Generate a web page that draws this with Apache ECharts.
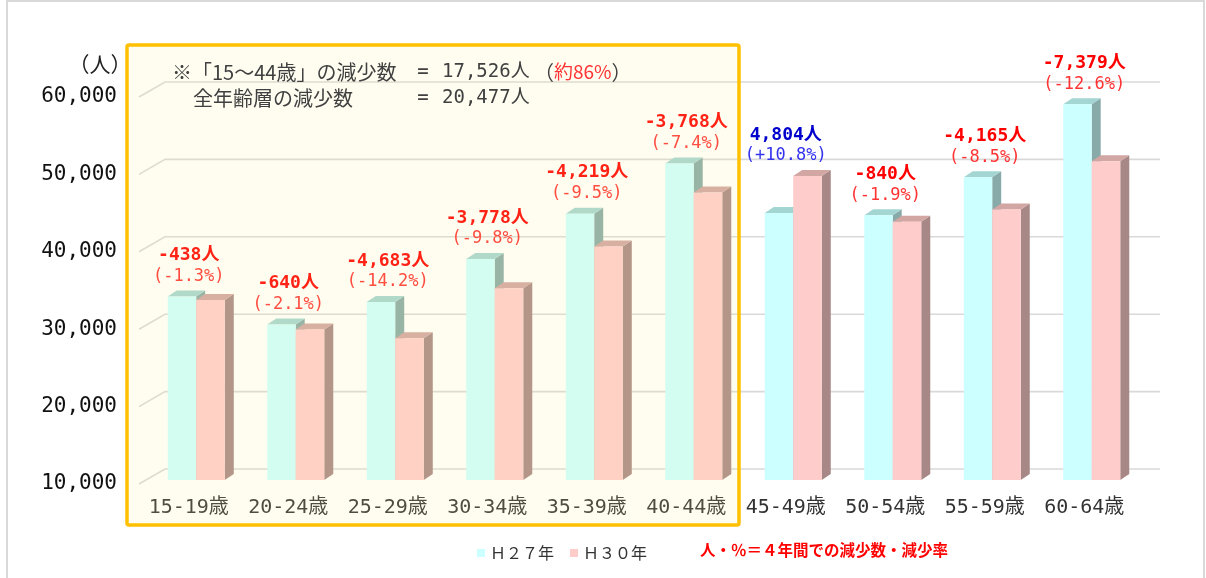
<!DOCTYPE html>
<html>
<head>
<meta charset="utf-8">
<script src="https://cdn.jsdelivr.net/npm/echarts@6/dist/echarts.min.js"></script>
<style>
  body { margin: 0; background: #fff; }
  #chart { width: 1206px; height: 578px; }
</style>
</head>
<body>
<div id="chart"></div>
<script>
// 年齢階級別人口（H27 / H30）
const categories = ['15-19歳', '20-24歳', '25-29歳', '30-34歳', '35-39歳', '40-44歳', '45-49歳', '50-54歳', '55-59歳', '60-64歳']
const h27 = [33700, 30100, 33000, 38550, 44400, 50900, 44480, 44210, 49100, 58560]
const h30 = [33262, 29460, 28317, 34772, 40181, 47132, 49284, 43370, 44935, 51181]
const diffs = [-438, -640, -4683, -3778, -4219, -3768, 4804, -840, -4165, -7379]
const rates = [-1.3, -2.1, -14.2, -9.8, -9.5, -7.4, 10.8, -1.9, -8.5, -12.6]
const yTicks = [10000, 20000, 30000, 40000, 50000, 60000]

const MONO = "'DejaVu Sans Mono', 'Noto Sans CJK JP', monospace"
const JP = "'Noto Sans CJK JP', sans-serif"
const DEPTH = [26, -15] // 奥の壁までのずれ
const BAR_DEPTH = [9, -6]

const myChart = echarts.init(document.getElementById('chart'))

// 棒（前面・上面・側面）
function barRender(slot, colors) {
  return function (params, api) {
    const i = api.value(0)
    const top = api.coord([i, api.value(1)])
    const base = api.coord([i, yTicks[0]])
    const band = api.size([1, 0])[0]
    const x0 = top[0] + band * slot[0]
    const x1 = top[0] + band * slot[1]
    const yT = top[1] - 4
    const yB = base[1] - 4
    const [dx, dy] = BAR_DEPTH
    return {
      type: 'group',
      children: [
        { type: 'polygon', shape: { points: [[x1, yT], [x1 + dx, yT + dy], [x1 + dx, yB + dy], [x1, yB]] }, style: { fill: colors.side } },
        { type: 'polygon', shape: { points: [[x0, yT], [x1, yT], [x1 + dx, yT + dy], [x0 + dx, yT + dy]] }, style: { fill: colors.top } },
        { type: 'rect', shape: { x: x0, y: yT, width: x1 - x0, height: yB - yT }, style: { fill: colors.front } }
      ]
    }
  }
}

// 奥の目盛線
function gridRender(params, api) {
  const cs = params.coordSys
  const y = api.coord([0, api.value(0)])[1]
  const [dx, dy] = DEPTH
  return {
    type: 'polyline',
    shape: { points: [[cs.x, y], [cs.x + dx, y + dy], [cs.x + cs.width + dx, y + dy]] },
    style: { stroke: '#d9d9d9', lineWidth: 1.6, fill: null }
  }
}

// 増減数・増減率ラベル
function labelRender(params, api) {
  const i = api.value(0)
  const p = api.coord([i, Math.max(h27[i], h30[i])])
  const d = diffs[i]
  const up = d > 0
  const num = (up ? '' : '-') + Math.abs(d).toLocaleString('en-US') + '人'
  const pct = '(' + (up ? '+' : '') + rates[i].toFixed(1) + '%)'
  return {
    type: 'group',
    children: [
      { type: 'text', x: p[0], y: p[1] - 45, style: { text: num, fill: up ? '#0000cc' : '#ff0000', font: 'bold 18px ' + MONO, align: 'center', verticalAlign: 'middle' } },
      { type: 'text', x: p[0], y: p[1] - 24, style: { text: pct, fill: up ? '#3333ee' : '#ff3333', font: '17px ' + MONO, align: 'center', verticalAlign: 'middle' } }
    ]
  }
}

myChart.setOption({
  backgroundColor: '#fff',
  animation: false,
  grid: { left: 139, right: 72, top: 97, bottom: 94 },
  legend: {
    data: ['Ｈ２７年', 'Ｈ３０年'],
    left: 477,
    top: 545,
    padding: 0,
    icon: 'rect',
    itemWidth: 8,
    itemHeight: 8,
    itemGap: 16,
    textStyle: { fontFamily: JP, fontSize: 16, color: '#333', lineHeight: 16 }
  },
  xAxis: {
    type: 'category',
    data: categories,
    axisLine: { show: false },
    axisTick: { show: false },
    axisLabel: { interval: 0, fontFamily: MONO, fontSize: 20, color: '#333', margin: 14 }
  },
  yAxis: {
    type: 'value',
    min: 10000,
    max: 60000,
    interval: 10000,
    axisLine: { show: false },
    axisTick: { show: false },
    splitLine: { show: false },
    axisLabel: { fontFamily: MONO, fontSize: 21, color: '#111', margin: 22, padding: [4, 0, 0, 0], formatter: v => v.toLocaleString('en-US') }
  },
  series: [
    {
      type: 'custom',
      name: 'grid',
      silent: true,
      z: 1,
      renderItem: gridRender,
      data: yTicks.map(v => [v]),
      encode: { y: 0 }
    },
    {
      type: 'custom',
      name: 'Ｈ２７年',
      itemStyle: { color: '#ccffff' },
      z: 2,
      renderItem: barRender([-0.211, 0.075], { front: '#ccffff', top: '#a3d6d3', side: '#88aaa8' }),
      data: h27.map((v, i) => [i, v]),
      encode: { x: 0, y: 1 }
    },
    {
      type: 'custom',
      name: 'Ｈ３０年',
      itemStyle: { color: '#ffcccc' },
      z: 3,
      renderItem: barRender([0.075, 0.362], { front: '#ffcccc', top: '#d1a6a3', side: '#a88886' }),
      data: h30.map((v, i) => [i, v]),
      encode: { x: 0, y: 1 }
    },
    {
      type: 'custom',
      name: 'labels',
      z: 4,
      renderItem: labelRender,
      data: categories.map((c, i) => [i, Math.max(h27[i], h30[i])]),
      encode: { x: 0, y: 1 }
    }
  ],
  graphic: [
    { type: 'rect', z: 0, silent: true, shape: { x: 7, y: 1, width: 1197, height: 640 }, style: { fill: null, stroke: '#d9d9d9', lineWidth: 2 } },
    { type: 'text', z: 50, x: 100, y: 64, style: { text: '（人）', font: '21px ' + JP, fill: '#222', align: 'center', verticalAlign: 'middle' } },
    {
      type: 'rect', z: 40, silent: true,
      shape: { x: 127, y: 45, width: 612, height: 480, r: 2 },
      style: { fill: 'rgba(255,240,150,0.14)', stroke: '#ffc000', lineWidth: 3.5 }
    },
    { type: 'text', z: 50, x: 172, y: 72, style: { text: '※「15～44歳」の減少数', font: '20px ' + JP, fill: '#404040', verticalAlign: 'middle' } },
    { type: 'text', z: 50, x: 423, y: 72, style: { text: '=', font: '19px ' + MONO, fill: '#404040', align: 'center', verticalAlign: 'middle' } },
    { type: 'text', z: 50, x: 442, y: 72, style: { text: '17,526人', font: '19px ' + MONO, fill: '#404040', verticalAlign: 'middle' } },
    {
      type: 'text', z: 50, x: 534, y: 72,
      style: {
        text: '{p|（}{r|約86%}{p|）}',
        verticalAlign: 'middle',
        rich: {
          p: { font: '20px ' + JP, fill: '#404040' },
          r: { font: '19px ' + JP, fill: '#ff3333' }
        }
      }
    },
    { type: 'text', z: 50, x: 193, y: 98, style: { text: '全年齢層の減少数', font: '20px ' + JP, fill: '#404040', verticalAlign: 'middle' } },
    { type: 'text', z: 50, x: 423, y: 98, style: { text: '=', font: '19px ' + MONO, fill: '#404040', align: 'center', verticalAlign: 'middle' } },
    { type: 'text', z: 50, x: 442, y: 98, style: { text: '20,477人', font: '19px ' + MONO, fill: '#404040', verticalAlign: 'middle' } },
    { type: 'text', z: 50, x: 700, y: 550, style: { text: '人・％＝４年間での減少数・減少率', font: 'bold 15.5px ' + JP, fill: '#ff0000', verticalAlign: 'middle' } }
  ]
})
</script>
</body>
</html>
